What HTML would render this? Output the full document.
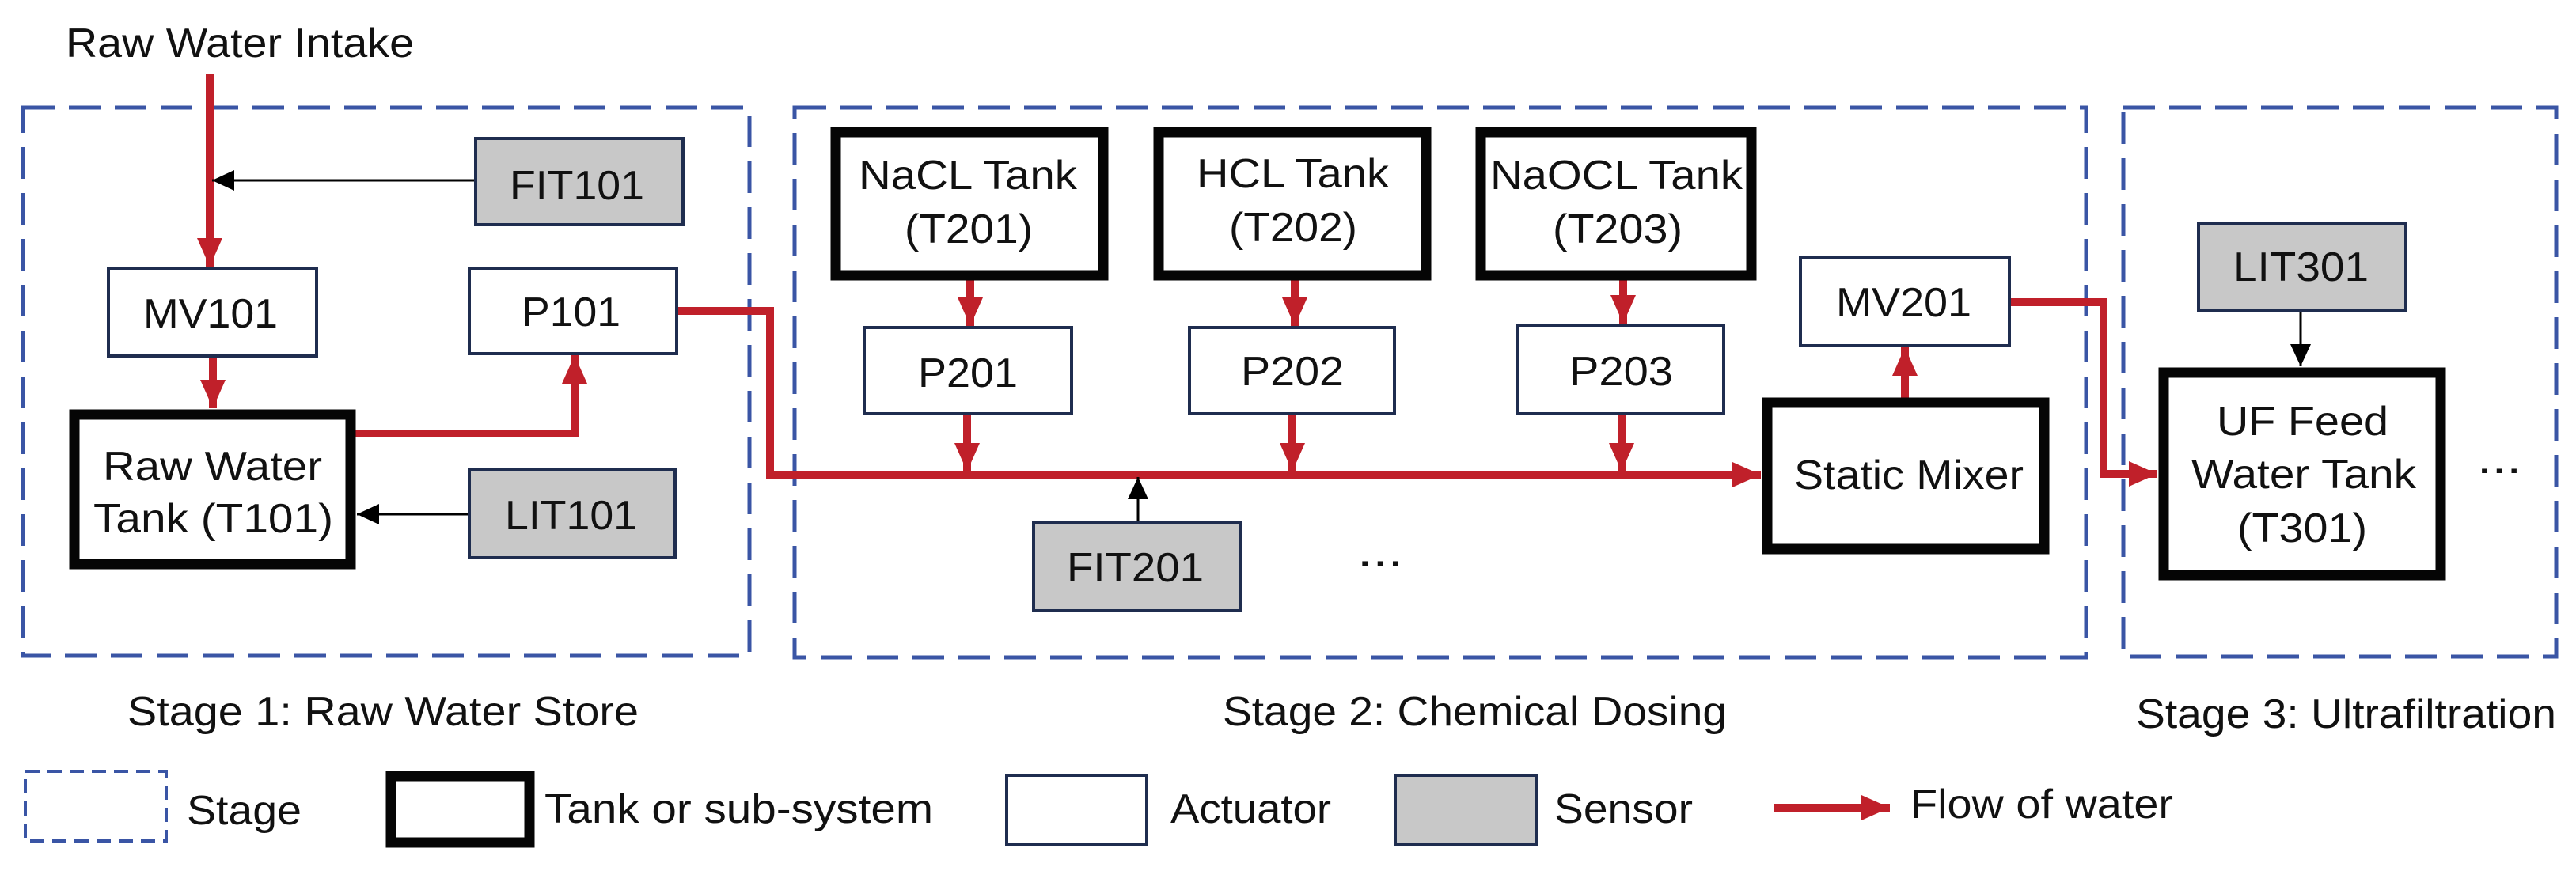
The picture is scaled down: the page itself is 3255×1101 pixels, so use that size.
<!DOCTYPE html>
<html><head><meta charset="utf-8"><style>
html,body{margin:0;padding:0;background:#fff;}
svg{display:block;}
text{font-family:"Liberation Sans",Arial,sans-serif;font-size:52px;fill:#111;}
</style></head><body>
<svg width="3255" height="1101" viewBox="0 0 3255 1101" xmlns="http://www.w3.org/2000/svg">
<defs>
<marker id="r" markerUnits="userSpaceOnUse" markerWidth="38" markerHeight="36" refX="36" refY="18" orient="auto"><path d="M0,2 L36,18 L0,34 Z" fill="#c0202a"/></marker>
<marker id="b" markerUnits="userSpaceOnUse" markerWidth="30" markerHeight="28" refX="28" refY="14" orient="auto"><path d="M0,1 L28,14 L0,27 Z" fill="#000"/></marker>
</defs>
<g fill="none" stroke="#3a55a5" stroke-width="5" stroke-dasharray="40 18">
<rect x="29" y="136" width="918" height="693"/>
<rect x="1004" y="136" width="1632" height="695"/>
<rect x="2683" y="136" width="547" height="694"/>
</g>
<g fill="none" stroke="#c0202a" stroke-width="10">
<path d="M265,93 V337" marker-end="url(#r)"/>
<path d="M269,450 V516" marker-end="url(#r)"/>
<path d="M449,548 H726 V449" marker-end="url(#r)"/>
<path d="M856,393 H973 V600 H2225" marker-end="url(#r)"/>
<path d="M1226,354 V412" marker-end="url(#r)"/>
<path d="M1636,354 V412" marker-end="url(#r)"/>
<path d="M2051,354 V409" marker-end="url(#r)"/>
<path d="M1222,523 V596" marker-end="url(#r)"/>
<path d="M1633,523 V596" marker-end="url(#r)"/>
<path d="M2049,523 V596" marker-end="url(#r)"/>
<path d="M2407,503 V439" marker-end="url(#r)"/>
<path d="M2540,382 H2658 V599 H2726" marker-end="url(#r)"/>
<path d="M2242,1021 H2388" marker-end="url(#r)"/>
</g>
<g fill="none" stroke="#000" stroke-width="3">
<path d="M600,228 H268" marker-end="url(#b)"/>
<path d="M592,650 H451" marker-end="url(#b)"/>
<path d="M1438,661 V603" marker-end="url(#b)"/>
<path d="M2907,392 V463" marker-end="url(#b)"/>
</g>
<g fill="#fff" stroke="#050505" stroke-width="13">
<rect x="94" y="524" width="349" height="189"/>
<rect x="1056" y="167" width="338" height="181"/>
<rect x="1464" y="167" width="338" height="181"/>
<rect x="1871" y="167" width="342" height="181"/>
<rect x="2233" y="509" width="350" height="185"/>
<rect x="2734" y="471" width="350" height="256"/>
<rect x="494" y="981" width="175" height="84"/>
</g>
<g fill="#fff" stroke="#1f2d4f" stroke-width="4">
<rect x="137" y="339" width="263" height="111"/>
<rect x="593" y="339" width="262" height="108"/>
<rect x="1092" y="414" width="262" height="109"/>
<rect x="1503" y="414" width="259" height="109"/>
<rect x="1917" y="411" width="261" height="112"/>
<rect x="2275" y="325" width="264" height="112"/>
<rect x="1272" y="980" width="177" height="87"/>
</g>
<g fill="#c8c8c8" stroke="#1f2d4f" stroke-width="4">
<rect x="601" y="175" width="262" height="109"/>
<rect x="593" y="593" width="260" height="112"/>
<rect x="1306" y="661" width="262" height="111"/>
<rect x="2778" y="283" width="262" height="109"/>
<rect x="1763" y="980" width="179" height="87"/>
</g>
<rect x="32" y="975" width="178" height="88" fill="none" stroke="#3a55a5" stroke-width="4" stroke-dasharray="18 10"/>
<g>
<text x="83" y="72" textLength="440" lengthAdjust="spacingAndGlyphs">Raw Water Intake</text>
<text x="644" y="252" textLength="170" lengthAdjust="spacingAndGlyphs">FIT101</text>
<text x="181" y="414" textLength="170" lengthAdjust="spacingAndGlyphs">MV101</text>
<text x="659" y="412" textLength="125" lengthAdjust="spacingAndGlyphs">P101</text>
<text x="130" y="607" textLength="277" lengthAdjust="spacingAndGlyphs">Raw Water</text>
<text x="118" y="673" textLength="303" lengthAdjust="spacingAndGlyphs">Tank (T101)</text>
<text x="638" y="669" textLength="167" lengthAdjust="spacingAndGlyphs">LIT101</text>
<text x="1085" y="239" textLength="276" lengthAdjust="spacingAndGlyphs">NaCL Tank</text>
<text x="1143" y="307" textLength="162" lengthAdjust="spacingAndGlyphs">(T201)</text>
<text x="1512" y="237" textLength="243" lengthAdjust="spacingAndGlyphs">HCL Tank</text>
<text x="1553" y="305" textLength="162" lengthAdjust="spacingAndGlyphs">(T202)</text>
<text x="1883" y="239" textLength="319" lengthAdjust="spacingAndGlyphs">NaOCL Tank</text>
<text x="1962" y="307" textLength="164" lengthAdjust="spacingAndGlyphs">(T203)</text>
<text x="1160" y="489" textLength="126" lengthAdjust="spacingAndGlyphs">P201</text>
<text x="1568" y="487" textLength="130" lengthAdjust="spacingAndGlyphs">P202</text>
<text x="1983" y="487" textLength="131" lengthAdjust="spacingAndGlyphs">P203</text>
<text x="1348" y="735" textLength="173" lengthAdjust="spacingAndGlyphs">FIT201</text>
<text x="1715" y="715" textLength="58" lengthAdjust="spacingAndGlyphs">...</text>
<text x="2320" y="400" textLength="171" lengthAdjust="spacingAndGlyphs">MV201</text>
<text x="2267" y="618" textLength="290" lengthAdjust="spacingAndGlyphs">Static Mixer</text>
<text x="2822" y="355" textLength="171" lengthAdjust="spacingAndGlyphs">LIT301</text>
<text x="2801" y="550" textLength="217" lengthAdjust="spacingAndGlyphs">UF Feed</text>
<text x="2769" y="617" textLength="284" lengthAdjust="spacingAndGlyphs">Water Tank</text>
<text x="2827" y="685" textLength="164" lengthAdjust="spacingAndGlyphs">(T301)</text>
<text x="3130" y="598" textLength="56" lengthAdjust="spacingAndGlyphs">...</text>
<text x="161" y="917" textLength="646" lengthAdjust="spacingAndGlyphs">Stage 1: Raw Water Store</text>
<text x="1545" y="917" textLength="637" lengthAdjust="spacingAndGlyphs">Stage 2: Chemical Dosing</text>
<text x="2699" y="920" textLength="531" lengthAdjust="spacingAndGlyphs">Stage 3: Ultrafiltration</text>
<text x="236" y="1042" textLength="145" lengthAdjust="spacingAndGlyphs">Stage</text>
<text x="688" y="1040" textLength="491" lengthAdjust="spacingAndGlyphs">Tank or sub-system</text>
<text x="1479" y="1040" textLength="203" lengthAdjust="spacingAndGlyphs">Actuator</text>
<text x="1964" y="1040" textLength="175" lengthAdjust="spacingAndGlyphs">Sensor</text>
<text x="2414" y="1034" textLength="332" lengthAdjust="spacingAndGlyphs">Flow of water</text>
</g>
</svg>
</body></html>
